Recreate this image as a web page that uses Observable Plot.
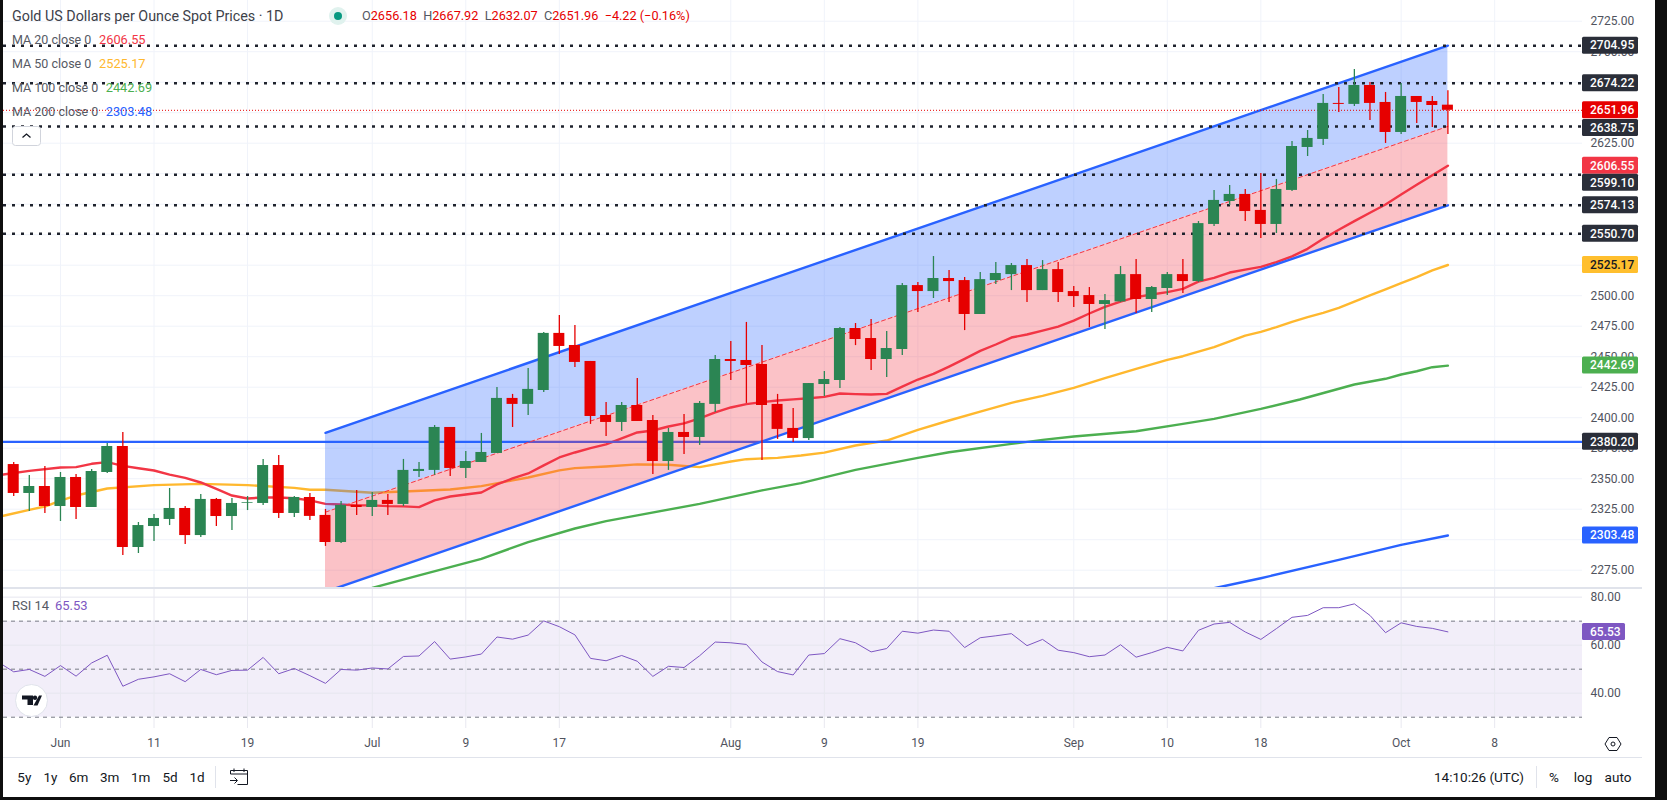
<!DOCTYPE html>
<html>
<head>
<meta charset="utf-8">
<script src="https://cdn.jsdelivr.net/npm/d3@7"></script>
<script src="https://cdn.jsdelivr.net/npm/@observablehq/plot@0.6"></script>
<style>
html,body{margin:0;padding:0;background:#fff;overflow:hidden}
#page{position:relative;width:1667px;height:800px;background:#fff;overflow:hidden;font-family:Roboto,sans-serif;color:#131722}
.edge{position:absolute;background:#0f0f0f;z-index:5}
#price,#rsi{position:absolute;left:0}
#price{top:0}#rsi{top:588px}
.t{position:absolute;white-space:nowrap;line-height:16px;transform:translateY(-50%);z-index:3}
.leg{color:#555963;font-size:13px}
.tb{font-size:13.5px;color:#131722;transform:translate(-50%,-50%)}
.sep{position:absolute;background:#e0e3eb;z-index:2}
svg{display:block}
</style>
</head>
<body>
<div id="page">
  <div id="price"></div>
  <div id="rsi"></div>
  <div class="edge" style="left:0;top:0;width:3px;height:800px"></div>
  <div class="edge" style="left:1655px;top:0;width:12px;height:800px"></div>
  <div class="edge" style="left:0;top:797px;width:1667px;height:3px"></div>
  <div class="sep" style="left:3px;top:587px;width:1639px;height:2px"></div>
  <div class="sep" style="left:3px;top:757px;width:1639px;height:1px"></div>
  <div class="sep" style="left:215px;top:766px;width:1px;height:22px"></div>
  <div class="sep" style="left:1536px;top:766px;width:1px;height:22px"></div>
  <div id="overlay"></div>
</div>
<script>
// ---- candles (daily, Gold spot) ----
const open = [2361.6,2337.9,2343.6,2327.2,2351,2326.4,2355.1,2376.4,2293.6,2310.8,2316.6,2325.6,2303.4,2333,2319,2329.9,2329.7,2360.8,2321.5,2334.6,2319.9,2297.7,2328.1,2326.4,2332.2,2328.9,2355.9,2356.8,2392,2358.4,2363.3,2370.7,2415.8,2410.9,2422.3,2469.1,2459.2,2446.1,2401.8,2396.1,2410,2397.7,2364.1,2387.9,2383.8,2410.9,2447.7,2446.9,2443.6,2410.9,2391.2,2382.9,2427.2,2430.5,2473.1,2464.9,2447.7,2455.9,2508.3,2503.4,2514.1,2512.4,2484.6,2512.4,2517.3,2524.7,2504.2,2521.4,2503.4,2500.1,2492.8,2494.9,2517.3,2496.9,2505.9,2517.3,2511.6,2558.4,2577.2,2583,2569.9,2558.4,2586.3,2621.5,2628.1,2657.6,2656.8,2672.3,2658.4,2633.8,2663.3,2659.2,2656.18];
const high = [2363.3,2352.6,2360,2355.1,2353.4,2357.5,2378.9,2387.9,2314.1,2320.7,2342,2327.2,2337.1,2333.8,2333.8,2335.4,2365.7,2369,2335.4,2337.9,2324.8,2331.3,2340.4,2338.7,2337.1,2365.8,2363.3,2393.6,2392,2372.3,2387.1,2424.8,2419.1,2440.4,2469.9,2483.8,2475.6,2446.1,2412.5,2412.5,2432.2,2401.8,2391.2,2402.7,2413.3,2451,2462.5,2478.1,2459.2,2419.1,2407.6,2428,2437.8,2473.9,2477.2,2480.5,2470.6,2510,2510.8,2532.1,2520.6,2514.9,2519,2527.2,2526.4,2529.6,2528.8,2527.2,2507.5,2506.7,2501,2523.9,2529.6,2507.5,2519,2529.6,2560.8,2586.3,2590.4,2587.1,2600.2,2595.3,2626.4,2635.4,2665,2670.7,2685.4,2674.8,2666.6,2674,2663.3,2663.3,2667.92];
const low = [2335.4,2323.1,2321.5,2314.9,2316.6,2326.4,2354.3,2287.1,2288.7,2298.5,2311.6,2296.1,2301.8,2310.8,2307.5,2323.9,2328,2317.4,2318.2,2315.8,2294.5,2296.9,2319.9,2319.1,2319.9,2327.2,2351,2352.7,2351.8,2350.2,2363.3,2370.7,2392,2401.8,2420.7,2451.8,2441.2,2394.5,2384.6,2388.7,2396.9,2353.5,2356.8,2369.9,2377.3,2404.3,2430.5,2411.7,2365,2382.2,2379.7,2381.3,2417.3,2423.9,2459.1,2438.7,2432.9,2451,2486.2,2497.7,2494.4,2471.4,2484.6,2509.1,2504.2,2494.4,2504.2,2494.4,2490.3,2473.9,2472.3,2494.4,2485.4,2486.2,2500.1,2501.8,2510.8,2556.8,2574,2560.9,2546.9,2551,2585.4,2614.1,2623.1,2650.2,2655.1,2643.6,2624.8,2632.2,2641.2,2637.9,2632.07];
const close = [2337.9,2343.6,2327.2,2351,2326.4,2355.9,2376.4,2293.6,2311.6,2317.4,2325.6,2303.4,2333,2319,2329.7,2330.5,2360.8,2321.5,2334.6,2319.1,2297.7,2328.1,2326.4,2332.2,2328.9,2356.8,2357.6,2392,2358.4,2364.1,2371.5,2415.8,2410.9,2423.2,2469.1,2458.4,2445.3,2401,2396.1,2410,2396.9,2364.1,2387.9,2383.8,2411.7,2447.7,2446.1,2442.8,2410,2390.4,2383,2428,2431.3,2473.1,2464.1,2447.7,2456.7,2508.3,2503.4,2514.1,2511.6,2484.6,2513.2,2518.2,2524.7,2504.2,2521.4,2502.6,2499.3,2492.8,2496,2517.3,2496.9,2506.7,2517.3,2511.6,2559.1,2578.1,2583,2569,2558.4,2587.1,2622.3,2628.9,2657.6,2656.8,2672.3,2657.6,2633.8,2663.3,2658.4,2655.9,2651.96];

// ---- moving averages: bar position and value ----
const ma20Bar = [-0.66,1,3,4,5,6,7,8,9,10,11,12,13,14,15,16,17,18,19,20,21,22,23,24,25,26,27,28,29,30,31,32,33,34,35,36,37,38,39,40,41,42,43,44,45,46,47,48,49,50,51,52,53,54,55,56,57,58,59,60,61,62,63,64,65,66,67,68,69,70,71,72,73,74,75,76,77,78,79,80,81,82,83,84,85,86,87,88,89,90,91,92];
const ma20Val = [2353.4,2356.4,2359.2,2359.5,2362.2,2363.6,2360.5,2358.6,2356.7,2353.4,2350.7,2346.9,2341.7,2336.2,2333.8,2334.6,2334.6,2334,2332.2,2329.4,2328.9,2328.1,2328.1,2327.5,2327.3,2326.7,2332.2,2335.4,2337.1,2338.7,2345.3,2350.2,2354.3,2360.9,2367.4,2371.5,2375.1,2378.1,2383,2387.9,2389.5,2392.8,2395.3,2399.4,2404.3,2408.4,2411.1,2412.8,2414.1,2415,2416,2417.1,2419.8,2419.3,2419,2419.5,2425.5,2431.3,2435.9,2441.9,2448.2,2454.8,2460,2465.7,2468.2,2471.4,2474.7,2479.6,2485.4,2490.8,2495.2,2498.8,2501,2502.9,2505.6,2511.6,2514.6,2519,2521.4,2523.6,2527.5,2532.2,2538.4,2546.6,2554,2561.1,2568,2574.8,2583,2590.9,2598.8,2606.55];
const ma50Bar = [-0.66,1,2,3,4,6,9,12,15,18,19,20,23,25,28,30,32,33,35,36,38,40,42,44,46,47,49,50.5,52,54,56,58,60,62,64,66,68,70,72,74,75,77,79,80,81,82,83,84,85,86,87,88,89,90,91,92];
const ma50Val = [2319.6,2324.5,2327.2,2332.1,2336.2,2342,2344.7,2345.8,2344.7,2342.5,2340.9,2340.9,2338.5,2339.5,2341.2,2343.9,2348.6,2351,2356.8,2358.7,2360,2361.7,2361.4,2359.5,2364.1,2366,2367.1,2369,2371.4,2377.2,2381.3,2390,2397.7,2405,2412.2,2417.9,2424.4,2432.4,2440,2447.4,2450.4,2457.8,2467.3,2470.4,2474.2,2478.6,2482.4,2486,2490,2495.2,2500.2,2505.1,2510.3,2515.2,2520.7,2525.17];
const ma100Bar = [23,26,30,33,36,38,40,44,46,48,50.5,54,58,60,64,66,68,72,75,77,80,82.5,84.6,86,88,89,90,91,92];
const ma100Val = [2260.5,2270.7,2284.3,2298,2309.2,2315.2,2319.9,2329.4,2334.9,2340.4,2346.4,2357.2,2367.1,2371.7,2378.5,2381.8,2384.6,2388.9,2394.9,2399,2407.2,2414.9,2422.3,2427.2,2431.9,2435.4,2438.1,2441.4,2442.69];
const ma200Bar = [76,77,80,85,89,92];
const ma200Val = [2257.6,2260.2,2268.4,2283.5,2295.8,2303.48];

// ---- regression channel ----
const channelBar = [20,92];
const channelTop = [2387.6,2704.95];
const channelMid = [2322.6,2638.75];
const channelLow = [2257.3,2574.13];

// ---- levels ----
const dottedLevels = [2704.95,2674.22,2638.75,2599.10,2574.13,2550.70];
const supportLevel = [2380.20];
const lastPrice = [2651.96];

// ---- axes ----
const priceGrid = [2725,2700,2675,2650,2625,2600,2575,2550,2525,2500,2475,2450,2425,2400,2375,2350,2325,2300,2275];
const priceTickLabels = [2725,2700,2625,2500,2475,2450,2425,2400,2375,2350,2325,2275];
const timeTickBars = [3,9,15,23,29,35,46,52,58,68,74,80,89,95];
const timeTickLabels = ["Jun","11","19","Jul","9","17","Aug","9","19","Sep","10","18","Oct","8"];
const rsiTicks = [80,60,40];
const rsiBands = [70,50,30];

// ---- RSI ----
const rsiBar = [-0.66,0,1,2,3,4,5,6,7,8,9,10,11,12,13,14,15,16,17,18,19,20,21,22,23,24,25,26,27,28,29,30,31,32,33,34,35,36,37,38,39,40,41,42,43,44,45,46,47,48,49,50,51,52,53,54,55,56,57,58,59,60,61,62,63,64,65,66,67,68,69,70,71,72,73,74,75,76,77,78,79,80,81,82,83,84,85,86,87,88,89,90,91,92];
const rsiVal = [51.6,48.9,49.9,47,51.5,47.1,52.6,55.8,42.9,45.8,46.8,48.1,44.8,49.9,47.7,49.5,49.6,54.9,48.1,50.3,47.3,44.1,49.9,49.6,50.5,50.1,55.3,55.5,61.5,54.2,55.1,56.3,63.4,62.5,64.2,70.1,67.7,64.3,54.5,53.5,55.7,53.3,47,51.2,50.7,55.6,61.3,61,60.3,53,49,47.6,55.9,56.5,62.7,61,57.2,58.6,65.8,65,66.3,65.8,59,63.1,63.9,64.8,59.8,62.4,57.9,56.9,55.2,55.9,60.2,55,56.9,59.1,57.6,66.2,68.8,69.5,65.5,62.4,66.9,71.6,72.4,75.6,75.6,77.2,72.4,65.2,69.3,67.8,67,65.53];

// ---- axis flags: value, colour, text colour ----
const flagValues = [2704.95,2674.22,2651.96,2638.75,2606.55,2599.10,2574.13,2550.70,2525.17,2442.69,2380.20,2303.48];
const flagColors = ["#2a2e39","#2a2e39","#e60000","#2a2e39","#f23645","#2a2e39","#2a2e39","#2a2e39","#ffbf2e","#4caf50","#2a2e39","#2962ff"];
const flagInk =    ["#fff","#fff","#fff","#fff","#fff","#fff","#fff","#fff","#131722","#fff","#fff","#fff"];
const flagNudge =  [0,0,0,1.5,0,8,0,0,0,0,0,0];

const GREEN="#2b8553", RED="#e60000", GRID="#f0f3fa", BLUE="#2962ff", MA20="#f23645", MA50="#ffb82e", MA100="#4caf50", PURPLE="#7e57c2";
const FONT="Roboto, sans-serif";
const xDomain=[-0.655,100.634];
const W=1655, L=3, R=73, LW=2.4;
const bars=d3.range(close.length);
const isUp=i=>close[i]>=open[i];
const colour=i=>isUp(i)?GREEN:RED;

function flagMark(values,colors,ink,nudge,fmt){
  return (index,{y},_v,{width,marginRight})=>{
    const g=d3.create("svg:g");
    const x0=width-marginRight;
    values.forEach((v,i)=>{
      const cy=y(v)+nudge[i], s=fmt(v);
      const w=s.length>5?56:43;
      g.append("rect").attr("x",x0).attr("y",cy-8.5).attr("width",w).attr("height",17).attr("rx",1.5).attr("fill",colors[i]);
      g.append("text").attr("x",x0+8).attr("y",cy+4.3).attr("text-anchor","start").attr("fill",ink[i]).attr("font-size",12).attr("font-weight",500).attr("font-family",FONT).text(s);
    });
    return g.node();
  };
}

const pricePlot=Plot.plot({
  width:W,height:588,marginLeft:L,marginRight:R,marginTop:0,marginBottom:0,
  style:{fontFamily:FONT,background:"transparent",overflow:"visible"},
  x:{type:"linear",domain:xDomain,axis:null},
  y:{type:"linear",domain:[2260,2741.97],axis:null},
  marks:[
    Plot.ruleY(priceGrid,{stroke:GRID,strokeWidth:1}),
    Plot.ruleX(timeTickBars,{stroke:GRID,strokeWidth:1}),
    Plot.axisY({anchor:"right",ticks:priceTickLabels,tickSize:0,tickPadding:8,tickFormat:d3.format(".2f"),label:null,fontSize:12,fill:"#50535e"}),
    Plot.line(ma100Val,{x:ma100Bar,y:ma100Val,stroke:MA100,strokeWidth:LW,clip:"frame"}),
    Plot.line(ma200Val,{x:ma200Bar,y:ma200Val,stroke:BLUE,strokeWidth:LW,clip:"frame"}),
    Plot.line(ma50Val,{x:ma50Bar,y:ma50Val,stroke:MA50,strokeWidth:LW,clip:"frame"}),
    Plot.line(ma20Val,{x:ma20Bar,y:ma20Val,stroke:MA20,strokeWidth:LW,clip:"frame"}),
    Plot.ruleY(supportLevel,{stroke:BLUE,strokeWidth:LW}),
    Plot.areaY(channelBar,{x:channelBar,y1:channelMid,y2:channelTop,fill:BLUE,fillOpacity:0.3,clip:"frame"}),
    Plot.areaY(channelBar,{x:channelBar,y1:channelLow,y2:channelMid,fill:MA20,fillOpacity:0.3,clip:"frame"}),
    Plot.line(channelTop,{x:channelBar,y:channelTop,stroke:BLUE,strokeWidth:LW,clip:"frame"}),
    Plot.line(channelLow,{x:channelBar,y:channelLow,stroke:BLUE,strokeWidth:LW,clip:"frame"}),
    Plot.line(channelMid,{x:channelBar,y:channelMid,stroke:MA20,strokeWidth:1,strokeDasharray:"4,3",clip:"frame"}),
    Plot.ruleY(dottedLevels,{stroke:"#1e222d",strokeWidth:2.5,strokeDasharray:"3,6"}),
    Plot.ruleY(lastPrice,{stroke:RED,strokeWidth:1,strokeDasharray:"1,2"}),
    Plot.ruleX(bars,{x:i=>i,y1:i=>low[i],y2:i=>high[i],stroke:colour,strokeWidth:1.3}),
    Plot.rect(bars,{x1:i=>i-0.353,x2:i=>i+0.353,y1:i=>open[i],y2:i=>close[i],fill:colour,inset:0}),
    flagMark(flagValues,flagColors,flagInk,flagNudge,d3.format(".2f"))
  ]
});
document.getElementById("price").append(pricePlot);

const rsiPlot=Plot.plot({
  width:W,height:169,marginLeft:L,marginRight:R,marginTop:0,marginBottom:29,
  style:{fontFamily:FONT,background:"transparent",overflow:"visible"},
  x:{type:"linear",domain:xDomain,axis:null},
  y:{type:"linear",domain:[25.3,83.6],axis:null},
  marks:[
    Plot.rectY([0],{x1:xDomain[0],x2:xDomain[1],y1:30,y2:70,fill:PURPLE,fillOpacity:0.1}),
    Plot.ruleY(rsiTicks,{stroke:"#e6e6ef",strokeWidth:1}),
    Plot.ruleX(timeTickBars,{stroke:"#e8e8f0",strokeWidth:1}),
    Plot.ruleY(rsiBands,{stroke:"#787b86",strokeWidth:1,strokeDasharray:"4,4"}),
    Plot.line(rsiVal,{x:rsiBar,y:rsiVal,stroke:PURPLE,strokeWidth:1,clip:"frame"}),
    Plot.axisY({anchor:"right",ticks:rsiTicks,tickSize:0,tickPadding:8,tickFormat:d3.format(".2f"),label:null,fontSize:12,fill:"#50535e"}),
    Plot.axisX({anchor:"bottom",ticks:timeTickBars,tickSize:0,tickPadding:10,tickFormat:d=>timeTickLabels[timeTickBars.indexOf(d)],label:null,fontSize:12,fill:"#50535e"}),
    flagMark([65.53],["#7e57c2"],["#fff"],[0],d3.format(".2f"))
  ]
});
document.getElementById("rsi").append(rsiPlot);

// ---- HTML texts ----
const page=document.getElementById("page");
function addText(html,left,top,cls,style){
  const d=document.createElement("div");
  d.className="t "+(cls||"");d.innerHTML=html;d.style.left=left+"px";d.style.top=top+"px";
  if(style)d.style.cssText+=";"+style;page.append(d);return d;
}
addText("Gold US Dollars per Ounce Spot Prices · 1D",12,15.5,"","font-size:14.3px;color:#3d4149");
const ohlc=[["O","2656.18"],["H","2667.92"],["L","2632.07"],["C","2651.96"]];
addText(ohlc.map(([k,v])=>`<span style="color:#555963">${k}</span>${v}`).join(" &nbsp;")+" &nbsp;−4.22 (−0.16%)",362,15.5,"","font-size:12.7px;color:#e60000");
const legend=[["MA 20 close 0","2606.55",MA20,39.5,99],["MA 50 close 0","2525.17",MA50,63.5,99],["MA 100 close 0","2442.69",MA100,87.5,105.7],["MA 200 close 0","2303.48",BLUE,111.5,105.7]];
legend.forEach(([a,b,c,y,x])=>{addText(a,12,y,"leg","font-size:12.5px");addText(b,x,y,"leg",`color:${c};font-size:12.8px`);});
addText("RSI 14",12,605.5,"leg");addText("65.53",55,605.5,"leg",`color:${PURPLE}`);
["5y","1y","6m","3m","1m","5d","1d"].forEach((s,i)=>addText(s,[24.3,50.4,78.6,109.6,140.7,170,197][i],777,"tb"));
addText("14:10:26 (UTC)",1479,777,"tb");
addText("%",1554,777,"tb");addText("log",1583,777,"tb");addText("auto",1618,777,"tb");

const ov=document.createElement("div");
ov.innerHTML=`
<svg style="position:absolute;left:326px;top:4px;z-index:3" width="24" height="24"><circle cx="12" cy="12" r="9" fill="#e0f2ee"/><circle cx="12" cy="12" r="4" fill="#089981"/></svg>
<svg style="position:absolute;left:12px;top:126px;z-index:3" width="29" height="20"><rect x="0.5" y="0.5" width="28" height="19" rx="3" fill="#fff" stroke="#d1d4dc"/><path d="M10.5 11.5l4-3.5 4 3.5" fill="none" stroke="#131722" stroke-width="1.3"/></svg>
<svg style="position:absolute;left:14px;top:683px;z-index:3" width="35" height="35"><circle cx="17.5" cy="17.5" r="16" fill="#fff" stroke="#e0e3eb"/><path d="M8 12.5h11v9.5h-5.5v-5.5H8z" fill="#131722"/><circle cx="21" cy="14.7" r="2.2" fill="#131722"/><path d="M25 12.5h3l-4.5 10h-4z" fill="#131722"/></svg>
<svg style="position:absolute;left:229px;top:766px;z-index:3" width="20" height="20" fill="none" stroke="#131722"><path d="M1.5 8V4.5h17v14h-10M1.5 8h17M5 2.5v3.5M15 2.5v3.5M1 14.5h7M5.5 11.5l3 3-3 3"/></svg>
<svg style="position:absolute;left:1604px;top:735px;z-index:3" width="18" height="18" fill="none" stroke="#131722"><path d="M5 2.5h8L17 9l-4 6.5H5L1 9z"/><circle cx="9" cy="9" r="2"/></svg>`;
page.append(ov);
</script>
</body>
</html>
